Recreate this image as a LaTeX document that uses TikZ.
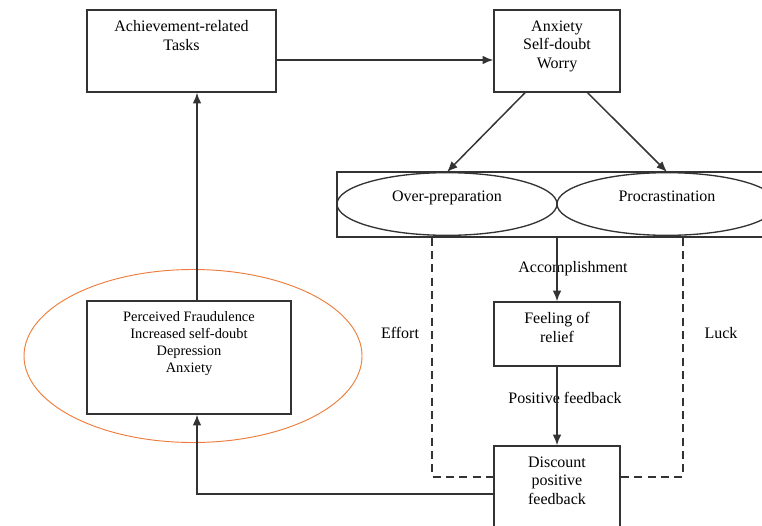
\documentclass[tikz,border=0pt]{standalone}
\usepackage{fontspec}
\setmainfont{Liberation Serif}
\usetikzlibrary{arrows.meta,shapes,positioning}
\definecolor{ring}{RGB}{236,125,60}
\tikzset{>={Latex[length=8pt,width=6.5pt]},
  box/.style={draw=black!80, line width=1.1pt, inner sep=0pt},
  oval/.style={draw=black!80, ellipse, line width=1pt, minimum width=165pt,
    minimum height=47pt, text height=8pt, text depth=12pt},
  link/.style={draw=black!80, line width=1.1pt},
  guess/.style={draw=black!80, line width=0.8pt, dash pattern=on 6pt off 4pt}}
\newcommand{\boxlines}[3]{\parbox[t][#2][t]{#1}{\centering\vspace*{8pt}#3}}

\begin{document}
\begin{tikzpicture}[x=0.75pt,y=-0.75pt,font=\fontsize{12}{14}\selectfont]
  \useasboundingbox (0,0) rectangle (762,525);

  % boxes
  \node[box] (tasks) at (181.5,51) {\boxlines{141.75pt}{61.5pt}{Achievement-related\\Tasks}};
  \node[box] (worry) at (557,51) {\boxlines{94.5pt}{61.5pt}{Anxiety\\Self-doubt\\Worry}};
  \node[box, minimum width=339.75pt, minimum height=48.75pt] (coping) at (563.5,204.5) {};
  \node[oval] (prep) at (447,204) {Over-preparation};
  \node[oval] (procr) at (667,204) {Procrastination};
  \node[box] (relief) at (557,334) {\boxlines{94.5pt}{48pt}{Feeling of\\relief}};
  \node[box] (discount) at (557,496) {\boxlines{94.5pt}{75pt}{Discount\\positive\\feedback}};
  \node[box] (fraud) at (189,357.5) {\boxlines{153pt}{84.75pt}{\fontsize{10.8}{12.8}\selectfont
      Perceived Fraudulence\\Increased self-doubt\\Depression\\Anxiety}};
  \node[draw=ring, ellipse, line width=0.7pt, minimum width=253.5pt,
    minimum height=129.75pt] (halo) at (193,356) {};

  % labels
  \node (accomp) at (573,269) {Accomplishment};
  \node (posfb) at (565,398) {Positive feedback};
  \node (effort) at (400,333) {Effort};
  \node (luck) at (721,333) {Luck};

  % arrows
  \draw[link,->] ([yshift=-6.75pt]tasks.east) -- ([yshift=-6.75pt]worry.west);
  \draw[link,->] ([xshift=-24pt]worry.south) -- (prep.north);
  \draw[link,->] ([xshift=23pt]worry.south) -- (procr.north);
  \draw[link,->] (relief.north |- coping.south) -- (relief.north);
  \draw[link,->] (relief) -- (discount);

  \coordinate (effortcorner) at (432,477);
  \coordinate (luckcorner) at (683,477);
  \draw[guess] (effortcorner |- coping.south) -- (effortcorner) -- (effortcorner -| discount.west);
  \draw[guess] (luckcorner |- coping.south) -- (luckcorner) -- (luckcorner -| discount.east);

  \coordinate (back) at (197,494);
  \draw[link,->] (back -| discount.west) -- (back) -- (back |- fraud.south);
  \draw[link,->] (back |- fraud.north) -- (back |- tasks.south);
\end{tikzpicture}
\end{document}
